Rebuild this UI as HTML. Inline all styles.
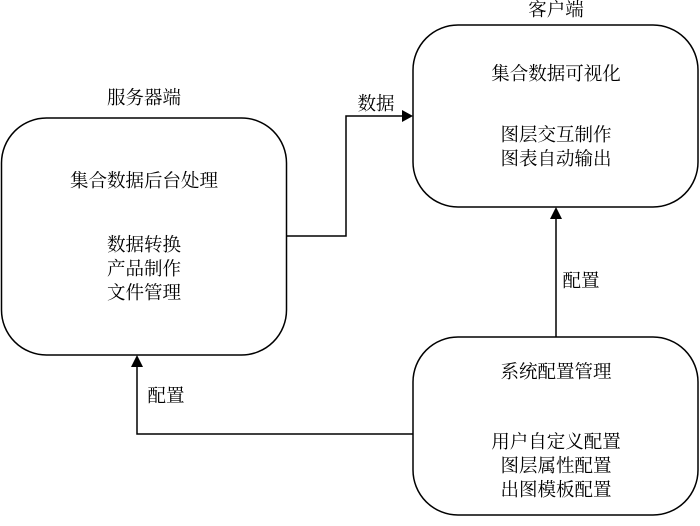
<!DOCTYPE html>
<html><head><meta charset="utf-8"><style>
body{margin:0;background:#fff}
text{font-family:"Liberation Serif","Noto Serif CJK SC","Noto Sans CJK SC",serif;font-size:18.5px;fill:#000}
</style></head><body>
<svg width="700" height="521" viewBox="0 0 700 521" xmlns="http://www.w3.org/2000/svg">
<g fill="none" stroke="#000" stroke-width="1.5">
<rect x="1.5" y="118" width="285" height="237" rx="45" ry="45"/>
<rect x="413" y="25" width="285" height="182" rx="45" ry="45"/>
<rect x="413" y="337" width="285" height="178" rx="45" ry="45"/>
<polyline points="287,236 346,236 346,116 403,116"/>
<polyline points="556,337 556,218"/>
<polyline points="413,434 137,434 137,366"/>
</g>
<g fill="#000">
<polygon points="413,116 402,110 402,122"/>
<polygon points="556,207 550,219 562,219"/>
<polygon points="137,355 131,367 143,367"/>
</g>
<g text-anchor="middle">
<text x="144" y="104">服务器端</text>
<text x="144" y="187">集合数据后台处理</text>
<text x="144" y="251">数据转换</text>
<text x="144" y="275">产品制作</text>
<text x="144" y="299">文件管理</text>
<text x="556" y="16">客户端</text>
<text x="556" y="80">集合数据可视化</text>
<text x="556" y="141">图层交互制作</text>
<text x="556" y="165">图表自动输出</text>
<text x="556" y="378">系统配置管理</text>
<text x="556" y="448">用户自定义配置</text>
<text x="556" y="472">图层属性配置</text>
<text x="556" y="496">出图模板配置</text>
<text x="376" y="110">数据</text>
<text x="581" y="287">配置</text>
<text x="166" y="402">配置</text>
</g>
</svg>
</body></html>
